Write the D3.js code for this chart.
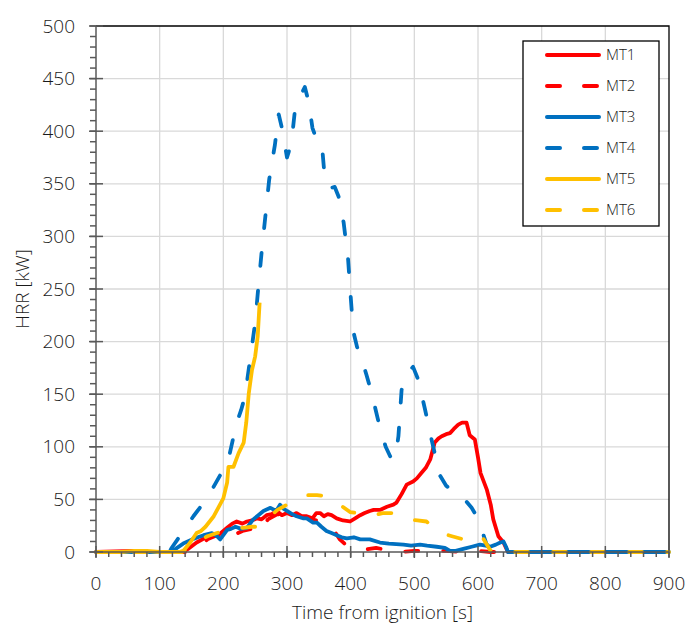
<!DOCTYPE html>
<html>
<head>
<meta charset="utf-8">
<script src="https://cdn.jsdelivr.net/npm/d3@7"></script>
<style>
  body { margin: 0; background: #fff; }
  text { font-family: "Open Sans", sans-serif; font-weight: 300; }
</style>
</head>
<body>
<div id="chart"></div>
<script>
// time [s], HRR [kW]
var mt1 = [[0,0],[60,1],[80,0],[135,0],[145,3],[158,9],[170,13],[179,17],[192,16],[206,23],[214,27],[221,29],[230,27],[237,29],[245,30],[253,32],[260,31],[268,35],[276,36],[284,39],[292,35],[300,37],[308,35],[315,37],[323,34],[331,34],[340,32],[346,37],[352,37],[358,34],[364,36],[370,35],[378,32],[388,30],[399,29],[407,32],[415,35],[422,37],[430,39],[436,40],[446,40],[457,43],[467,45],[472,47],[480,55],[488,64],[498,67],[504,70],[511,75],[518,80],[525,88],[532,104],[538,108],[543,110],[550,112],[556,113],[562,117],[569,121],[575,123],[582,123],[587,111],[595,107],[600,90],[604,75],[614,59],[620,45],[624,31],[632,15],[640,9],[647,0],[900,0]];
var mt2 = [[0,0],[145,0],[160,5],[175,12],[190,16],[200,12],[208,10],[216,16],[230,20],[245,22],[255,18],[262,24],[270,31],[285,36],[300,35],[320,34],[340,31],[360,28],[372,22],[383,12],[392,7],[401,4],[420,2],[440,4],[455,2],[480,0],[500,1],[550,1],[580,0],[600,1],[620,0],[900,0]];
var mt3 = [[0,0],[115,0],[125,3],[137,8],[151,12],[160,14],[169,16],[182,18],[190,15],[195,12],[200,16],[206,21],[212,22],[219,24],[228,22],[237,23],[247,31],[255,35],[263,39],[274,42],[280,40],[284,40],[289,45],[295,41],[300,39],[308,36],[315,34],[326,32],[331,32],[341,28],[347,28],[354,24],[362,20],[370,18],[378,16],[386,14],[394,13],[405,14],[415,12],[430,12],[446,9],[460,8],[483,7],[495,6],[509,7],[520,6],[535,5],[548,4],[556,1],[565,1],[577,3],[590,5],[603,7],[612,6],[619,5],[628,7],[635,9],[640,10],[644,5],[647,0],[900,0]];
var mt4 = [[0,0],[115,0],[119,4],[135,18],[153,34],[168,46],[182,59],[195,73],[208,88],[221,123],[228,135],[234,148],[242,183],[250,218],[255,252],[260,284],[266,319],[272,354],[281,387],[287,416],[292,403],[300,375],[307,389],[313,423],[320,432],[328,442],[334,428],[340,403],[346,393],[352,392],[356,379],[360,351],[368,346],[375,347],[381,338],[389,313],[396,278],[400,243],[404,210],[410,195],[417,184],[425,168],[433,151],[446,118],[455,100],[462,91],[470,88],[475,110],[480,154],[488,170],[498,176],[506,164],[517,135],[527,107],[540,73],[550,63],[560,58],[569,56],[579,50],[590,42],[598,34],[606,21],[613,8],[621,2],[625,0],[900,0]];
var mt5 = [[0,0],[40,0],[60,1],[80,1],[100,0],[130,0],[137,1],[148,9],[158,18],[165,20],[172,24],[185,34],[192,42],[200,51],[206,66],[208,81],[216,81],[224,94],[232,104],[236,123],[240,151],[245,173],[250,186],[254,205],[257,237]];
var mt6 = [[0,0],[135,0],[145,3],[160,10],[175,15],[190,18],[200,20],[211,22],[231,23],[245,24],[255,24],[268,31],[285,40],[300,45],[315,50],[330,54],[347,54],[362,53],[375,48],[383,45],[399,38],[410,37],[423,38],[438,35],[450,37],[470,37],[490,31],[505,30],[519,29],[535,21],[547,17],[559,15],[577,12],[590,10],[600,9],[608,13],[619,2],[625,0],[900,0]];

var seriesNames = ["MT1", "MT2", "MT3", "MT4", "MT5", "MT6"];
var xTicks = [0, 100, 200, 300, 400, 500, 600, 700, 800, 900];
var yTicks = [0, 50, 100, 150, 200, 250, 300, 350, 400, 450, 500];

var series = [
  { name: "MT1", data: mt1, color: "#ff0000", dashed: false },
  { name: "MT2", data: mt2, color: "#ff0000", dashed: true },
  { name: "MT3", data: mt3, color: "#0070c0", dashed: false },
  { name: "MT4", data: mt4, color: "#0070c0", dashed: true },
  { name: "MT5", data: mt5, color: "#ffc000", dashed: false },
  { name: "MT6", data: mt6, color: "#ffc000", dashed: true }
];

var width = 690, height = 624;
var margin = { top: 26, right: 21, bottom: 72, left: 96 };
var dashPattern = "13,25";

var svg = d3.select("#chart").append("svg")
    .attr("width", width)
    .attr("height", height);

var x = d3.scaleLinear().domain([0, 900]).range([margin.left, width - margin.right]);
var y = d3.scaleLinear().domain([0, 500]).range([height - margin.bottom, margin.top]);

// grid
var grid = svg.append("g").attr("stroke", "#d9d9d9").attr("stroke-width", 1.3);
grid.selectAll(".gx").data(xTicks.slice(1, -1)).enter().append("line")
    .attr("x1", d => x(d)).attr("x2", d => x(d))
    .attr("y1", y(0)).attr("y2", y(500));
grid.selectAll(".gy").data(yTicks.slice(1, -1)).enter().append("line")
    .attr("x1", x(0)).attr("x2", x(900))
    .attr("y1", d => y(d)).attr("y2", d => y(d));

// top and right border
svg.append("path")
    .attr("d", "M" + x(0) + "," + y(500) + "H" + x(900) + "V" + y(0))
    .attr("fill", "none")
    .attr("stroke", "#000")
    .attr("stroke-width", 1.3);

// lines
var line = d3.line().x(d => x(d[0])).y(d => y(d[1]));
svg.append("g").selectAll("path").data(series).enter().append("path")
    .attr("d", d => line(d.data))
    .attr("fill", "none")
    .attr("stroke", d => d.color)
    .attr("stroke-width", 3.8)
    .attr("stroke-linejoin", "round")
    .attr("stroke-linecap", d => d.dashed ? "round" : "butt")
    .attr("stroke-dasharray", d => d.dashed ? dashPattern : null);

// axes
var axisColor = "#595959";
var yMinor = d3.range(0, 501, 10);
var xMinor = d3.range(0, 901, 20);

var ax = svg.append("g").attr("stroke", axisColor).attr("stroke-width", 1.5);
ax.selectAll(".my").data(yMinor).enter().append("line")
    .attr("x1", x(0) - 6).attr("x2", x(0))
    .attr("y1", d => y(d)).attr("y2", d => y(d));
ax.selectAll(".My").data(yTicks).enter().append("line")
    .attr("x1", x(0) - 7).attr("x2", x(0) + 7)
    .attr("y1", d => y(d)).attr("y2", d => y(d));
ax.selectAll(".mx").data(xMinor).enter().append("line")
    .attr("x1", d => x(d)).attr("x2", d => x(d))
    .attr("y1", y(0)).attr("y2", y(0) + 5);
ax.selectAll(".Mx").data(xTicks).enter().append("line")
    .attr("x1", d => x(d)).attr("x2", d => x(d))
    .attr("y1", y(0) - 6).attr("y2", y(0) + 6);
ax.append("line").attr("x1", x(0)).attr("x2", x(0)).attr("y1", y(0)).attr("y2", y(500));
ax.append("line").attr("x1", x(0)).attr("x2", x(900)).attr("y1", y(0)).attr("y2", y(0));

var labelColor = "#1a1a1a";
svg.append("g").selectAll("text").data(yTicks).enter().append("text")
    .attr("x", x(0) - 21)
    .attr("y", d => y(d))
    .attr("dy", "0.35em")
    .attr("text-anchor", "end")
    .attr("font-size", 19)
    .attr("fill", labelColor)
    .text(d => d);

svg.append("g").selectAll("text").data(xTicks).enter().append("text")
    .attr("x", d => x(d))
    .attr("y", y(0) + 38)
    .attr("text-anchor", "middle")
    .attr("font-size", 19)
    .attr("fill", labelColor)
    .text(d => d);

svg.append("text")
    .attr("x", (x(0) + x(900)) / 2)
    .attr("y", 619)
    .attr("text-anchor", "middle")
    .attr("font-size", 19)
    .attr("fill", labelColor)
    .text("Time from ignition [s]");

svg.append("text")
    .attr("transform", "translate(29," + ((y(0) + y(500)) / 2) + ") rotate(-90)")
    .attr("text-anchor", "middle")
    .attr("font-size", 19)
    .attr("fill", labelColor)
    .text("HRR [kW]");

// legend
var legend = svg.append("g").attr("transform", "translate(523,41)");
legend.append("rect")
    .attr("width", 136).attr("height", 185)
    .attr("fill", "#fff")
    .attr("stroke", "#000")
    .attr("stroke-width", 1.3);
var item = legend.selectAll(".item").data(series).enter().append("g")
    .attr("transform", (d, i) => "translate(0," + (14 + i * 31) + ")");
item.append("line")
    .attr("x1", 24).attr("x2", 76)
    .attr("stroke", d => d.color)
    .attr("stroke-width", 4)
    .attr("stroke-linecap", "round")
    .attr("stroke-dasharray", d => d.dashed ? "13,24" : null);
item.append("text")
    .attr("x", 83)
    .attr("dy", "0.36em")
    .attr("font-size", 15)
    .attr("fill", labelColor)
    .text(d => d.name);
</script>
</body>
</html>
